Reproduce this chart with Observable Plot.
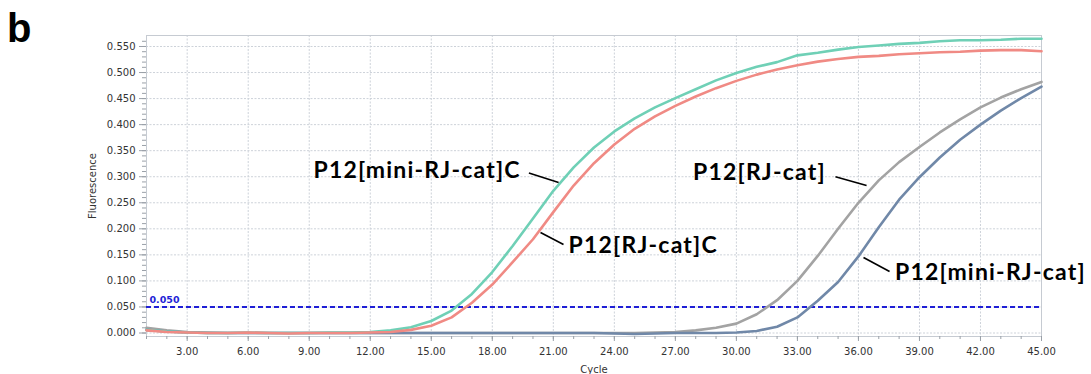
<!DOCTYPE html>
<html>
<head>
<meta charset="utf-8">
<script src="https://cdn.jsdelivr.net/npm/d3@7"></script>
<script src="https://cdn.jsdelivr.net/npm/@observablehq/plot@0.6"></script>
<style>
  html, body { margin: 0; padding: 0; background: #fff; }
  #wrap { position: relative; width: 1091px; height: 374px; }
  #panel { position: absolute; left: 7px; top: 6px; font: bold 40px "Liberation Sans", Arial, sans-serif; color: #000; }
  .annot text { letter-spacing: 1.2px; }
</style>
</head>
<body>
<div id="wrap"><div id="panel">b</div></div>
<script>
const cycles = [1,2,3,4,5,6,7,8,9,10,11,12,13,14,15,16,17,18,19,20,21,22,23,24,25,26,27,28,29,30,31,32,33,34,35,36,37,38,39,40,41,42,43,44,45];

const miniRJcatC = [0.006,0.003,0.001,0.000,0.000,0.001,0.000,0.000,0.000,0.001,0.001,0.002,0.005,0.011,0.023,0.043,0.075,0.117,0.167,0.220,0.273,0.318,0.356,0.387,0.412,0.433,0.451,0.468,0.485,0.499,0.511,0.520,0.533,0.538,0.544,0.549,0.552,0.555,0.557,0.560,0.562,0.562,0.563,0.565,0.565];
const RJcatC = [0.005,0.002,0.001,0.000,0.000,0.001,0.000,-0.001,0.000,0.000,0.000,0.001,0.002,0.006,0.014,0.030,0.058,0.093,0.136,0.180,0.232,0.283,0.326,0.362,0.392,0.416,0.436,0.454,0.470,0.484,0.496,0.506,0.514,0.521,0.526,0.530,0.532,0.535,0.537,0.539,0.540,0.542,0.543,0.543,0.541];
const RJcat = [0.010,0.005,0.002,0.001,0.000,0.000,0.000,0.000,0.000,0.000,0.000,0.000,0.000,0.000,0.000,0.000,0.000,0.000,0.000,0.000,0.000,0.000,0.000,0.000,0.000,0.001,0.002,0.005,0.010,0.018,0.036,0.063,0.100,0.148,0.200,0.250,0.293,0.328,0.357,0.385,0.410,0.433,0.452,0.468,0.482];
const miniRJcat = [0.006,0.003,0.001,0.000,0.000,0.000,0.000,0.000,0.000,0.000,0.000,0.000,0.000,0.000,0.000,0.000,0.000,0.000,0.000,0.000,0.000,0.000,0.000,-0.001,-0.002,-0.001,0.000,0.000,0.000,0.001,0.004,0.012,0.030,0.062,0.098,0.147,0.203,0.256,0.299,0.337,0.371,0.400,0.427,0.451,0.473];

const seriesNames = ["P12[RJ-cat]", "P12[mini-RJ-cat]", "P12[mini-RJ-cat]C", "P12[RJ-cat]C"];
const seriesValues = [RJcat, miniRJcat, miniRJcatC, RJcatC];
const seriesColors = ["#a3a3a3", "#7088a8", "#6fd0b6", "#f08a84"];

const threshold = 0.05;
const thresholdLabel = "0.050";

const xTicks = [3,6,9,12,15,18,21,24,27,30,33,36,39,42,45];
const yTicks = [0,0.05,0.10,0.15,0.20,0.25,0.30,0.35,0.40,0.45,0.50,0.55];
const yMinorTicks = [0,0.01,0.02,0.03,0.04,0.05,0.06,0.07,0.08,0.09,0.10,0.11,0.12,0.13,0.14,0.15,0.16,0.17,0.18,0.19,0.20,0.21,0.22,0.23,0.24,0.25,0.26,0.27,0.28,0.29,0.30,0.31,0.32,0.33,0.34,0.35,0.36,0.37,0.38,0.39,0.40,0.41,0.42,0.43,0.44,0.45,0.46,0.47,0.48,0.49,0.50,0.51,0.52,0.53,0.54,0.55,0.56];

// annotation labels (data coordinates)
const labelText = ["P12[mini-RJ-cat]C", "P12[RJ-cat]C", "P12[RJ-cat]", "P12[mini-RJ-cat]"];
const labelX = [19.4, 21.75, 34.4, 37.8];
const labelY = [0.312, 0.168, 0.308, 0.116];
const labelAnchor = ["end", "start", "end", "start"];
const leaderX1 = [19.8, 20.37, 34.87, 36.25];
const leaderY1 = [0.307, 0.193, 0.300, 0.145];
const leaderX2 = [21.26, 21.50, 36.40, 37.53];
const leaderY2 = [0.289, 0.170, 0.283, 0.118];

const rows = [];
seriesNames.forEach((name, i) => {
  cycles.forEach((c, j) => rows.push({series: name, cycle: c, value: seriesValues[i][j], color: seriesColors[i]}));
});
const labels = labelText.map((t, i) => ({t, x: labelX[i], y: labelY[i], a: labelAnchor[i]}));
const leaders = leaderX1.map((x1, i) => ({x1, y1: leaderY1[i], x2: leaderX2[i], y2: leaderY2[i]}));

const annotStyle = {fontSize: 23, fontWeight: "bold", fontFamily: "Lato, sans-serif", fill: "#000", className: "annot"};

const chart = Plot.plot({
  width: 1091,
  height: 374,
  marginLeft: 146,
  marginRight: 50,
  marginTop: 35,
  marginBottom: 38,
  style: {fontFamily: "DejaVu Sans, sans-serif", background: "transparent"},
  x: {domain: [1, 45]},
  y: {domain: [-0.0067, 0.5711]},
  marks: [
    Plot.gridX(xTicks, {stroke: "#cdd2d9", strokeOpacity: 1, strokeDasharray: "2,1.5"}),
    Plot.gridY(yTicks, {stroke: "#cdd2d9", strokeOpacity: 1, strokeDasharray: "2,1.5"}),
    Plot.frame({stroke: "#c6cbd2"}),
    Plot.axisX(cycles, {tickSize: 3, text: null, stroke: "#9aa0a8", label: null}),
    Plot.axisX(xTicks, {tickSize: 5, tickPadding: 6, tickFormat: d => d.toFixed(2), fontSize: 10, fill: "#333", stroke: "#9aa0a8",
      label: "Cycle", labelAnchor: "center", labelArrow: "none", labelOffset: 36}),
    Plot.axisY(yMinorTicks.filter(v => v <= 0.571), {tickSize: 4, text: null, stroke: "#9aa0a8", label: null}),
    Plot.axisY(yTicks, {tickSize: 7, tickPadding: 4, tickFormat: d => d.toFixed(3), fontSize: 10, fill: "#333", stroke: "#9aa0a8",
      label: "Fluorescence", labelAnchor: "center", labelArrow: "none", labelOffset: 58}),
    Plot.ruleY([threshold], {stroke: "#1f1fd6", strokeWidth: 2, strokeDasharray: "5,3"}),
    Plot.text([thresholdLabel], {x: 1, y: threshold, text: d => d, textAnchor: "start", dx: 3, dy: -7, fill: "#1f1fd6", fontWeight: "bold", fontSize: 9.5}),
    Plot.line(rows, {x: "cycle", y: "value", z: "series", stroke: "color", strokeWidth: 2.6}),
    Plot.link(leaders, {x1: "x1", y1: "y1", x2: "x2", y2: "y2", stroke: "#000", strokeWidth: 1.6}),
    Plot.text(labels, {x: "x", y: "y", text: "t", textAnchor: "end", filter: d => d.a === "end", ...annotStyle}),
    Plot.text(labels, {x: "x", y: "y", text: "t", textAnchor: "start", filter: d => d.a === "start", ...annotStyle})
  ]
});
chart.style.position = "absolute";
chart.style.left = "0";
chart.style.top = "0";
document.getElementById("wrap").appendChild(chart);
document.getElementById("wrap").appendChild(document.getElementById("panel"));
</script>
</body>
</html>
